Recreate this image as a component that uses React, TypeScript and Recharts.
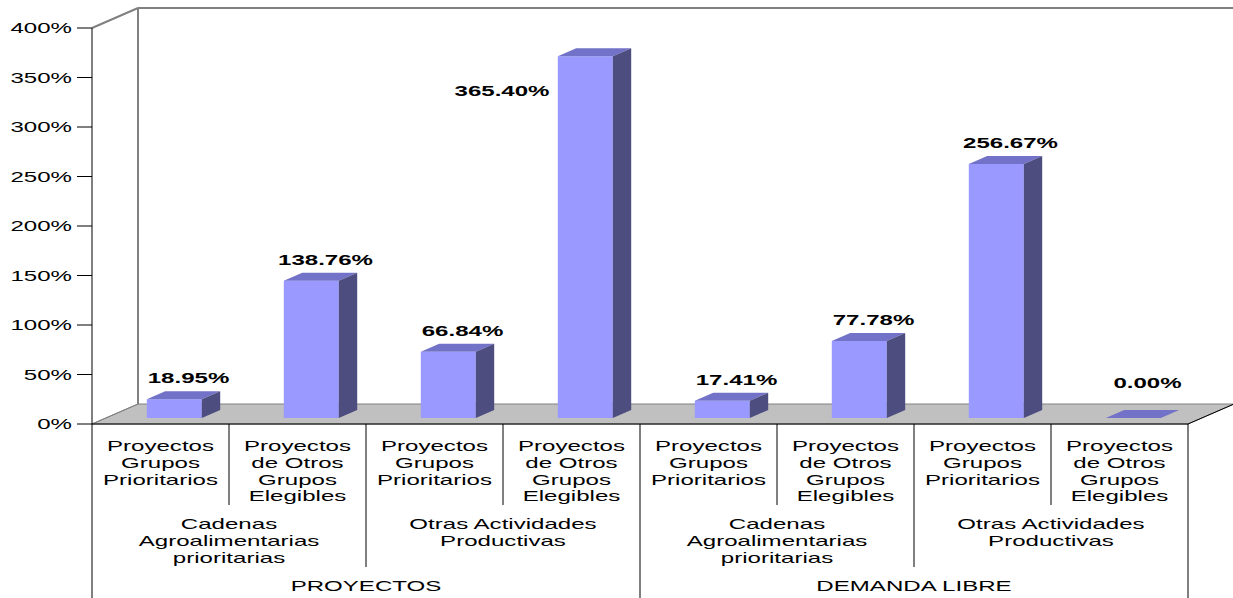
import { BarChart, Bar, XAxis, YAxis, LabelList } from 'recharts';

const W = 1233;
const H = 598;
const LEFT = 92;
const RIGHT = 1188;
const TOP = 28;
const FLOOR = 424;
const DEPTH_X = 46;
const DEPTH_Y = 20;
const FONT = '"Liberation Sans", Arial, sans-serif';
const STRETCH = 1.72;

const subCategories = [
  'Proyectos\nGrupos\nPrioritarios',
  'Proyectos\nde Otros\nGrupos\nElegibles',
  'Proyectos\nGrupos\nPrioritarios',
  'Proyectos\nde Otros\nGrupos\nElegibles',
  'Proyectos\nGrupos\nPrioritarios',
  'Proyectos\nde Otros\nGrupos\nElegibles',
  'Proyectos\nGrupos\nPrioritarios',
  'Proyectos\nde Otros\nGrupos\nElegibles',
];
const activities = [
  'Cadenas\nAgroalimentarias\nprioritarias',
  'Otras Actividades\nProductivas',
  'Cadenas\nAgroalimentarias\nprioritarias',
  'Otras Actividades\nProductivas',
];
const sources = ['PROYECTOS', 'DEMANDA LIBRE'];
const values = [18.95, 138.76, 66.84, 365.4, 17.41, 77.78, 256.67, 0.0];
const yTicks = [0, 50, 100, 150, 200, 250, 300, 350, 400];

const data = values.map((value, i) => ({ id: i, value }));

const BAND = (RIGHT - LEFT) / values.length;
// bar sits between 30% and 70% of the floor depth
const OFF_X = DEPTH_X * 0.3;
const OFF_Y = DEPTH_Y * 0.3;
const BAR_DX = DEPTH_X * 0.4;
const BAR_DY = DEPTH_Y * 0.4;

function Stretched({ x, y, children, bold, anchor = 'middle' }: any) {
  return (
    <text
      transform={`translate(${x},${y}) scale(${STRETCH},1)`}
      textAnchor={anchor}
      fontFamily={FONT}
      fontSize={14}
      fontWeight={bold ? 'bold' : 'normal'}
      fill="#000"
    >
      {children}
    </text>
  );
}

function Lines({ x, y, text, step }: { x: number; y: number; text: string; step: number }) {
  return (
    <>
      {text.split('\n').map((t, k) => (
        <Stretched key={k} x={x} y={y + k * step}>
          {t}
        </Stretched>
      ))}
    </>
  );
}

function Box3D(props: any) {
  const { x, y, width, height } = props;
  const fx = x + OFF_X;
  const fy = y - OFF_Y;
  const h = Math.max(0, height);
  const w = width;
  return (
    <g>
      {h > 0 && <rect x={fx} y={fy} width={w} height={h} fill="#9999ff" />}
      <polygon
        points={`${fx},${fy} ${fx + BAR_DX},${fy - BAR_DY} ${fx + w + BAR_DX},${fy - BAR_DY} ${fx + w},${fy}`}
        fill="#7272c8"
      />
      {h > 0 && (
        <polygon
          points={`${fx + w},${fy} ${fx + w + BAR_DX},${fy - BAR_DY} ${fx + w + BAR_DX},${fy + h - BAR_DY} ${fx + w},${fy + h}`}
          fill="#4d4d80"
        />
      )}
    </g>
  );
}

function ValueLabel(props: any) {
  const { x, y, width, value } = props;
  const cx = x + width / 2;
  const top = y - OFF_Y;
  const txt = `${Number(value).toFixed(2)}%`;
  if (value > 350) {
    return (
      <Stretched x={cx - 69.5} y={top + 40} bold>
        {txt}
      </Stretched>
    );
  }
  const cy = Math.min(top - 21, FLOOR - 41);
  return (
    <Stretched x={cx + 28} y={cy + 5} bold>
      {txt}
    </Stretched>
  );
}

function YTick(props: any) {
  const { x, y, payload } = props;
  return (
    <Stretched x={x - 3} y={y + 5} anchor="end">
      {`${payload.value}%`}
    </Stretched>
  );
}

function XTick(props: any) {
  const { x, payload } = props;
  const i = payload.value as number;
  const xl = x - BAND / 2;
  const depthFor = (k: number) => (k % 4 === 0 ? H : k % 2 === 0 ? 567 : 505);
  return (
    <g>
      <line x1={xl} y1={FLOOR} x2={xl} y2={depthFor(i)} stroke="#000" />
      {i === values.length - 1 && (
        <line x1={xl + BAND} y1={FLOOR} x2={xl + BAND} y2={H} stroke="#000" />
      )}
      <Lines x={x} y={451} text={subCategories[i]} step={16.8} />
      {i % 2 === 0 && <Lines x={xl + BAND} y={529} text={activities[i / 2]} step={17} />}
      {i % 4 === 0 && <Lines x={xl + 2 * BAND} y={591} text={sources[i / 4]} step={17} />}
    </g>
  );
}

function Walls() {
  const bx = LEFT + DEPTH_X;
  const by = FLOOR - DEPTH_Y;
  return (
    <svg width={W} height={H} style={{ position: 'absolute', left: 0, top: 0 }}>
      <rect width={W} height={H} fill="#fff" />
      <polygon
        points={`${LEFT},${FLOOR} ${bx},${by} ${RIGHT + DEPTH_X},${by} ${RIGHT},${FLOOR}`}
        fill="#c0c0c0"
        stroke="#808080"
      />
      <line x1={RIGHT} y1={FLOOR} x2={RIGHT + DEPTH_X} y2={by} stroke="#000" />
      <line x1={LEFT} y1={TOP} x2={bx} y2={TOP - DEPTH_Y} stroke="#808080" strokeWidth={2} />
      <line x1={bx} y1={TOP - DEPTH_Y} x2={W} y2={TOP - DEPTH_Y} stroke="#808080" strokeWidth={2} />
      <line x1={bx} y1={TOP - DEPTH_Y} x2={bx} y2={by} stroke="#808080" strokeWidth={2} />
      <line x1={LEFT} y1={FLOOR} x2={bx} y2={by} stroke="#808080" />
    </svg>
  );
}

export default function App() {
  return (
    <div style={{ position: 'absolute', left: 0, top: 0, width: W, height: H }}>
      <Walls />
      <div style={{ position: 'absolute', left: 0, top: 0 }}>
        <BarChart
          width={W}
          height={H}
          data={data}
          margin={{ top: TOP, right: W - RIGHT, bottom: 0, left: 0 }}
          barSize={55}
        >
          <XAxis
            dataKey="id"
            height={H - FLOOR}
            axisLine={{ stroke: '#000' }}
            tickLine={false}
            tick={<XTick />}
            interval={0}
          />
          <YAxis
            width={LEFT}
            domain={[0, 400]}
            ticks={yTicks}
            axisLine={{ stroke: '#000' }}
            tickLine={{ stroke: '#000' }}
            tickSize={15}
            tick={<YTick />}
            interval={0}
          />
          <Bar dataKey="value" shape={<Box3D />} isAnimationActive={false}>
            <LabelList dataKey="value" content={<ValueLabel />} />
          </Bar>
        </BarChart>
      </div>
    </div>
  );
}
